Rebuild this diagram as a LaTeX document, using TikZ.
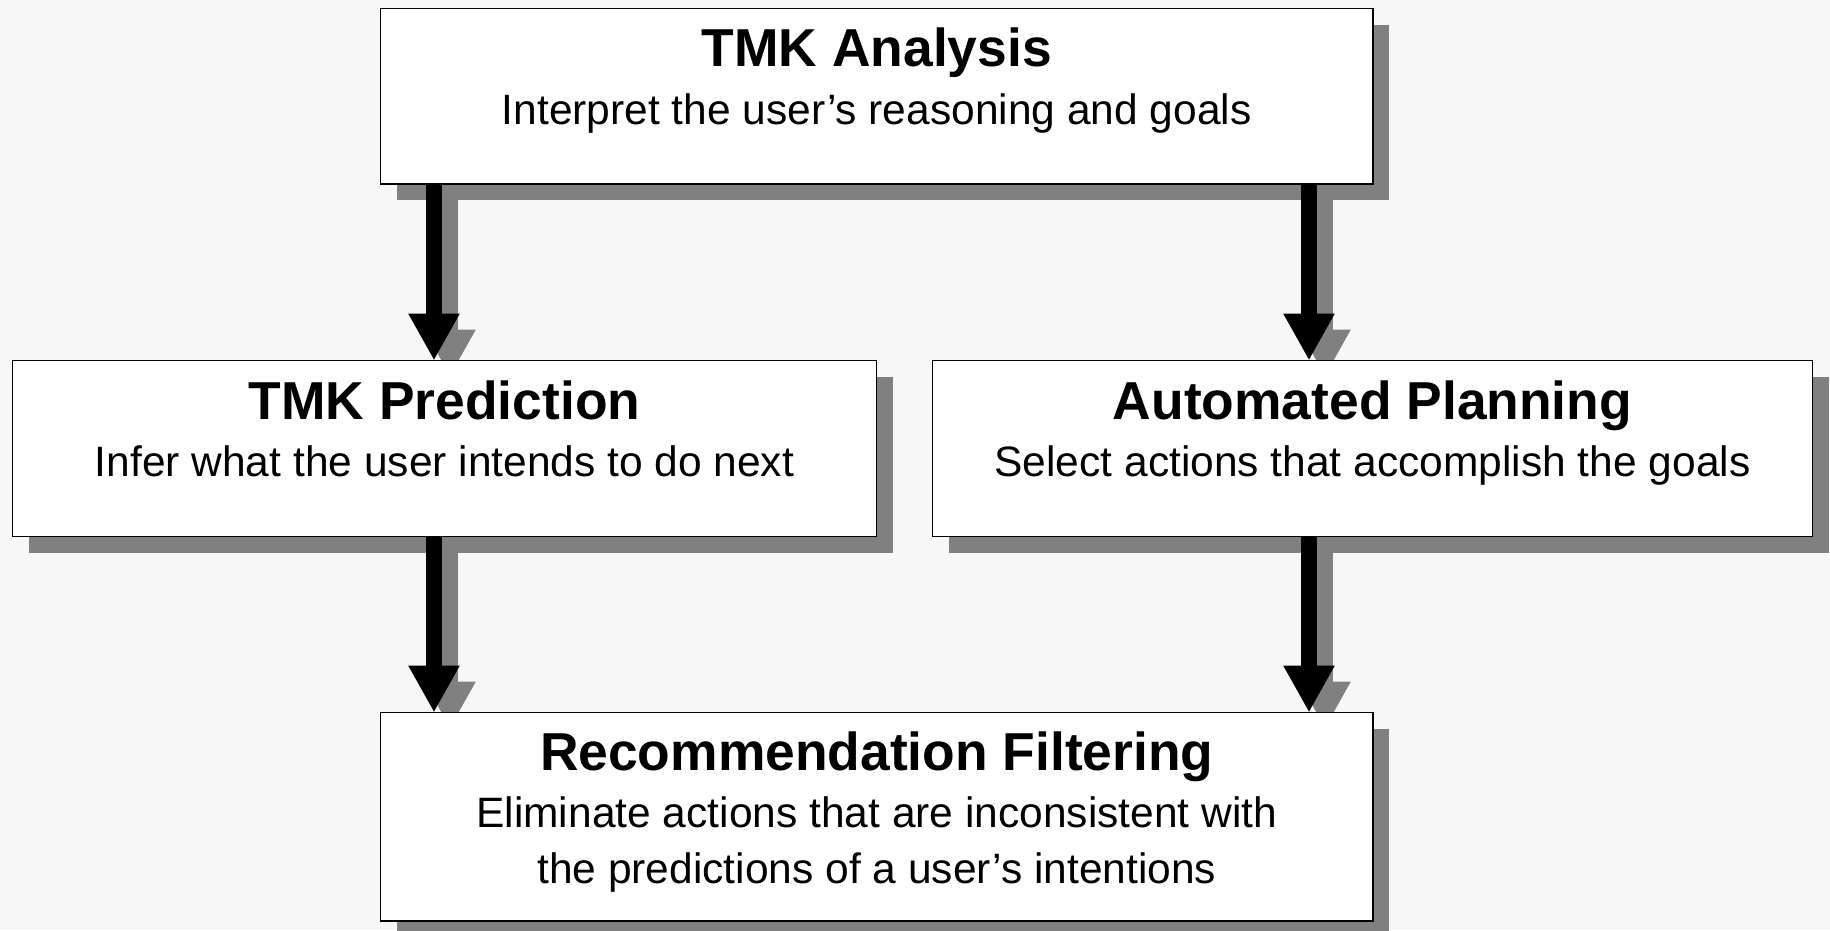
\documentclass[tikz,border=0pt]{standalone}
\usepackage{fontspec}
\setmainfont{Liberation Sans}
\usetikzlibrary{arrows.meta}
\definecolor{bgc}{RGB}{247,247,247}
\definecolor{shc}{RGB}{128,128,128}
\pgfdeclarelayer{bglayer}
\pgfdeclarelayer{shlayer}
\pgfsetlayers{bglayer,shlayer,main}
\tikzset{
  box/.style={draw=black, fill=white, line width=1.4pt, inner sep=0pt, outer sep=0pt, rectangle},
  ttl/.style={anchor=base, inner sep=0pt, font=\fontsize{53.4}{64}\selectfont\bfseries},
  sub/.style={anchor=base, inner sep=0pt, font=\fontsize{42.5}{51}\selectfont},
  flow/.style={line width=16pt, draw=black, -{Triangle[width=48pt,length=47pt]}},
  flowsh/.style={line width=16pt, draw=shc, -{Triangle[width=48pt,length=47pt]}},
}
\newcommand{\boxshadow}[1]{\fill[shc] ([shift={(16,16)}]#1.north west) rectangle ([shift={(16,16)}]#1.south east);}
\begin{document}
\begin{tikzpicture}[x=1pt,y=-1pt]
\useasboundingbox (0,0) rectangle (1830,930);
\begin{pgfonlayer}{bglayer}
  \fill[bgc] (0,0) rectangle (1830,930);
\end{pgfonlayer}

\node[box, minimum width=992.5pt, minimum height=175.5pt] (A) at (876.75,96.25) {};
\node[box, minimum width=864pt, minimum height=176pt] (P) at (444.5,448.5) {};
\node[box, minimum width=880pt, minimum height=176pt] (Q) at (1372.5,448.5) {};
\node[box, minimum width=992.5pt, minimum height=208.5pt] (R) at (876.75,816.75) {};

\node[ttl] (At) at ([yshift=-58pt]A.north) {TMK Analysis};
\node[sub] (As) at ([yshift=-115.5pt]A.north) {Interpret the user’s reasoning and goals};
\node[ttl] (Pt) at ([yshift=-58.5pt]P.north) {TMK Prediction};
\node[sub] (Ps) at ([yshift=-116pt]P.north) {Infer what the user intends to do next};
\node[ttl] (Qt) at ([yshift=-58.5pt]Q.north) {Automated Planning};
\node[sub] (Qs) at ([yshift=-116pt]Q.north) {Select actions that accomplish the goals};
\node[ttl] (Rt) at ([yshift=-57.5pt]R.north) {Recommendation Filtering};
\node[sub] (Rs1) at ([yshift=-114.5pt]R.north) {Eliminate actions that are inconsistent with};
\node[sub] (Rs2) at ([yshift=-171pt]R.north) {the predictions of a user’s intentions};

\coordinate (xl) at (434,0);
\coordinate (xr) at (1309,0);

\begin{pgfonlayer}{shlayer}
  \boxshadow{A}
  \boxshadow{P}
  \boxshadow{Q}
  \boxshadow{R}
  \draw[flowsh] ([shift={(16,16)}]A.south -| xl) -- ([shift={(16,16)}]P.north -| xl);
  \draw[flowsh] ([shift={(16,16)}]A.south -| xr) -- ([shift={(16,16)}]Q.north -| xr);
  \draw[flowsh] ([shift={(16,16)}]P.south -| xl) -- ([shift={(16,16)}]R.north -| xl);
  \draw[flowsh] ([shift={(16,16)}]Q.south -| xr) -- ([shift={(16,16)}]R.north -| xr);
\end{pgfonlayer}

\draw[flow] (A.south -| xl) -- (P.north -| xl);
\draw[flow] (A.south -| xr) -- (Q.north -| xr);
\draw[flow] (P.south -| xl) -- (R.north -| xl);
\draw[flow] (Q.south -| xr) -- (R.north -| xr);
\end{tikzpicture}
\end{document}
